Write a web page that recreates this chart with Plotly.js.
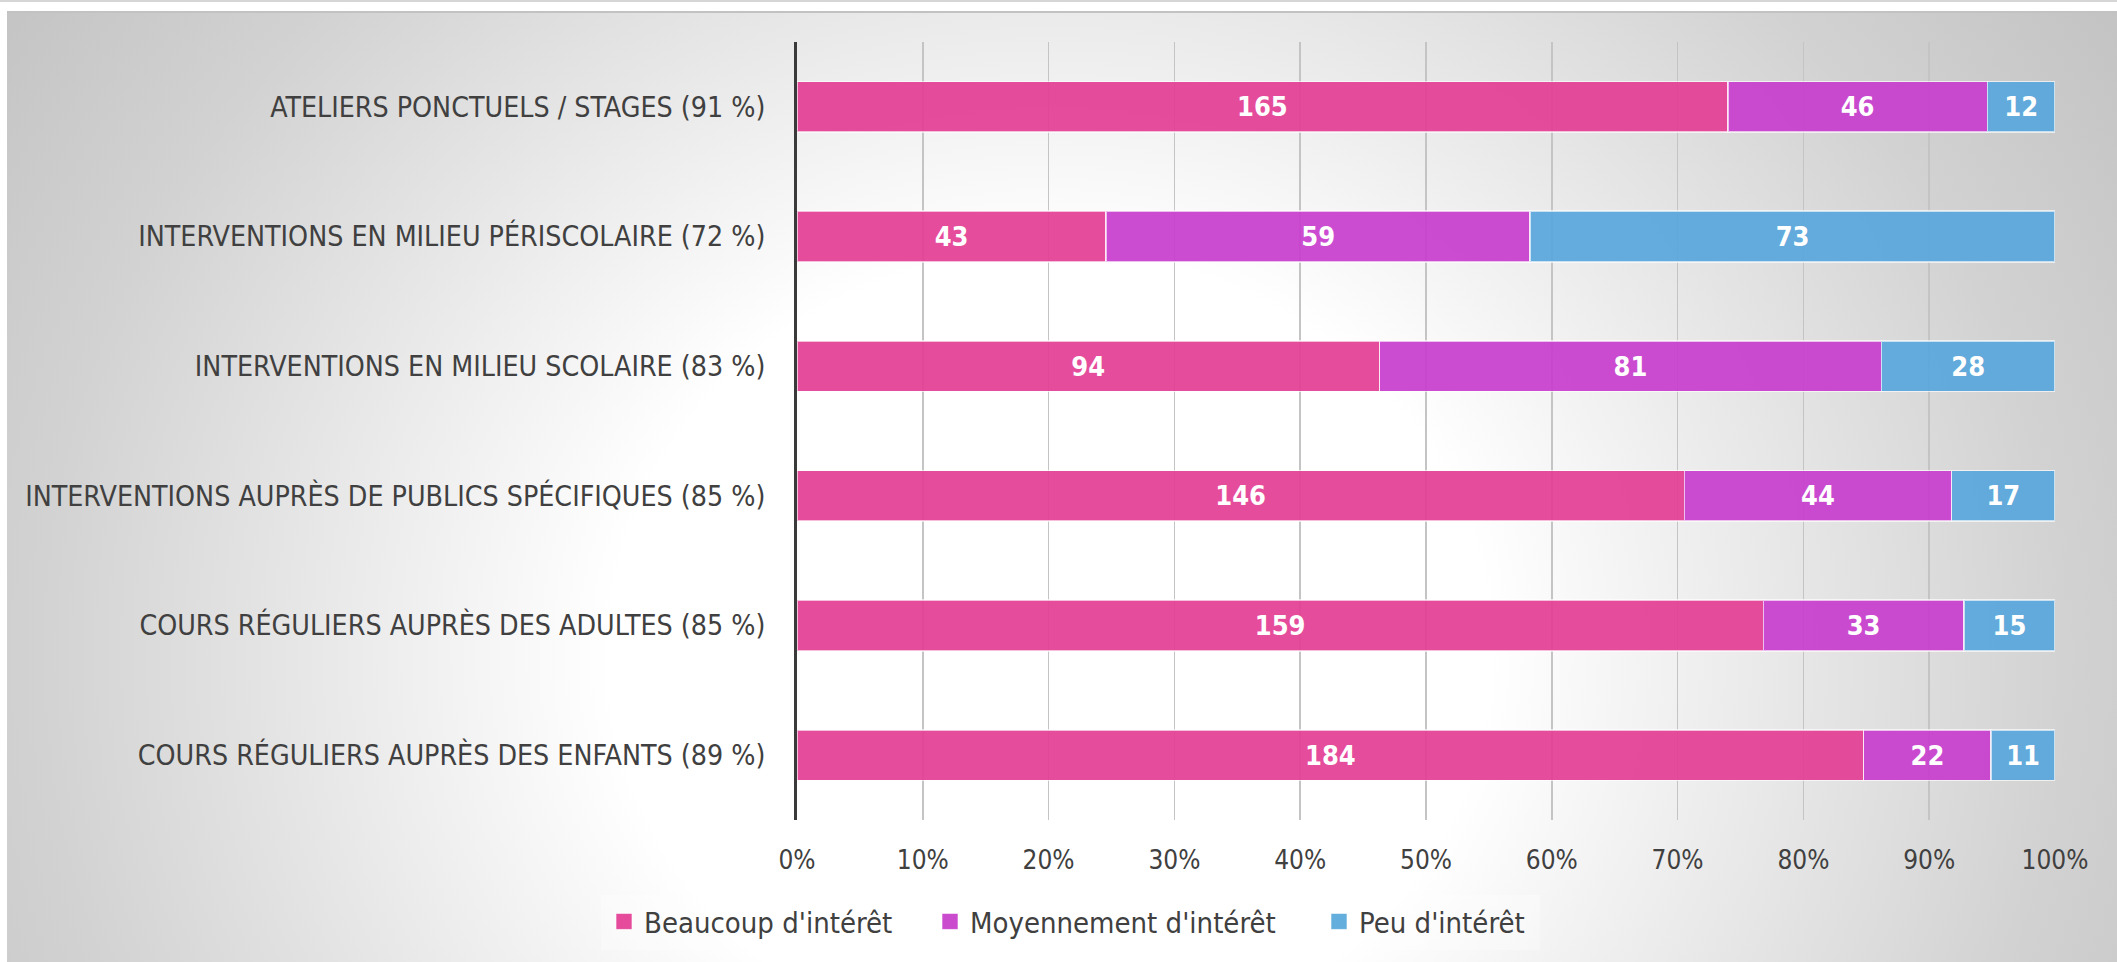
<!DOCTYPE html>
<html>
<head>
<meta charset="utf-8">
<script src="https://cdn.plot.ly/plotly-3.0.1.min.js"></script>
<style>
  html, body { margin: 0; padding: 0; background: #ffffff; width: 2117px; height: 962px; overflow: hidden; }
  #topline { position: absolute; left: 0; top: 0; width: 2117px; height: 2px; background: #d6d6d6; }
  #bg { position: absolute; left: 7px; top: 11px; width: 2110px; height: 951px;
        border-top: 2px solid #c2c2c2; box-sizing: border-box;
        background: radial-gradient(ellipse 1100px 1000px at 1043px 640px, #ffffff 0%, #ffffff 40%, #ececec 62%, #d2d2d2 92%, #c4c4c4 115%, #bcbcbc 130%); }
  #chart { position: absolute; left: 0; top: 0; width: 2117px; height: 962px; }
</style>
</head>
<body>
<div id="topline"></div>
<div id="bg"></div>
<div id="chart"></div>
<script>
// Categories, top to bottom
const categories = [
  "ATELIERS PONCTUELS / STAGES (91 %)",
  "INTERVENTIONS EN MILIEU PÉRISCOLAIRE (72 %)",
  "INTERVENTIONS EN MILIEU SCOLAIRE (83 %)",
  "INTERVENTIONS AUPRÈS DE PUBLICS SPÉCIFIQUES (85 %)",
  "COURS RÉGULIERS AUPRÈS DES ADULTES (85 %)",
  "COURS RÉGULIERS AUPRÈS DES ENFANTS (89 %)"
];
const beaucoup    = [165, 43, 94, 146, 159, 184];
const moyennement = [46, 59, 81, 44, 33, 22];
const peu         = [12, 73, 28, 17, 15, 11];
const seriesNames = ["Beaucoup d'intérêt", "Moyennement d'intérêt", "Peu d'intérêt"];
const tickValues  = [0, 10, 20, 30, 40, 50, 60, 70, 80, 90, 100];

const colors = ["rgba(228,62,148,0.93)", "rgba(200,62,205,0.93)", "rgba(88,167,219,0.93)"];
const legendColors = ["#e64b9b", "#cb4bcf", "#63aedd"];
const FONT = "'DejaVu Sans Condensed', 'DejaVu Sans', sans-serif";
const legendIds = ['legend', 'legend2', 'legend3'];
const legendX = [604 / 2117, 930 / 2117, 1319 / 2117];

const seriesData = [beaucoup, moyennement, peu];
const traces = seriesData.map((vals, i) => ({
  type: 'bar',
  orientation: 'h',
  name: seriesNames[i],
  y: categories,
  x: vals,
  text: vals,
  texttemplate: '%{text}',
  textposition: 'inside',
  insidetextanchor: 'middle',
  constraintext: 'none',
  textfont: { family: FONT, size: 27, color: '#ffffff', weight: 'bold' },
  marker: { color: colors[i], line: { color: 'rgba(255,255,255,0.65)', width: 1.5 } },
  showlegend: false,
  hoverinfo: 'skip'
}));

// legend entries (square swatches), one legend box per entry
seriesNames.forEach((n, i) => {
  traces.push({
    type: 'scatter', mode: 'markers', name: n,
    x: [null], y: [null],
    legend: legendIds[i],
    marker: { symbol: 'square', size: 16, color: legendColors[i], line: { color: 'rgba(255,255,255,0.6)', width: 1 } },
    showlegend: true, hoverinfo: 'skip'
  });
});

function legendBox(i) {
  return {
    orientation: 'h',
    xref: 'container', yref: 'container',
    x: legendX[i], xanchor: 'left',
    y: 0.042, yanchor: 'middle',
    bgcolor: 'rgba(0,0,0,0)',
    font: { family: FONT, size: 29, color: '#404040' },
    itemclick: false, itemdoubleclick: false
  };
}

const layout = {
  width: 2117, height: 962,
  paper_bgcolor: 'rgba(0,0,0,0)',
  plot_bgcolor: 'rgba(0,0,0,0)',
  margin: { l: 797, r: 62, t: 42, b: 142, pad: 0 },
  barmode: 'stack',
  barnorm: 'percent',
  bargap: 0.61,
  font: { family: FONT, color: '#404040', size: 27 },
  xaxis: {
    range: [0, 100],
    tickvals: tickValues,
    ticktext: tickValues.map(v => v + '%'),
    showgrid: true, gridcolor: '#c4c4c4', gridwidth: 1.5,
    zeroline: false, showline: false,
    ticks: '', ticklabelstandoff: 22,
    tickfont: { family: FONT, size: 26, color: '#404040' },
    fixedrange: true
  },
  yaxis: {
    type: 'category',
    categoryorder: 'array',
    categoryarray: categories,
    autorange: 'reversed',
    showgrid: false, zeroline: false,
    showline: true, linecolor: '#3a3a3a', linewidth: 3,
    ticks: '', ticklabelstandoff: 23,
    tickfont: { family: FONT, size: 28.3, color: '#404040' },
    fixedrange: true
  },
  shapes: [{
    type: 'rect', xref: 'paper', yref: 'paper', layer: 'below',
    x0: (601 - 797) / 1258, x1: (1540 - 797) / 1258,
    y0: -(895 - 820) / 778, y1: -(950 - 820) / 778,
    fillcolor: 'rgba(255,255,255,0.3)', line: { width: 0 }
  }],
  showlegend: true,
  legend: legendBox(0),
  legend2: legendBox(1),
  legend3: legendBox(2)
};

Plotly.newPlot('chart', traces, layout, { displayModeBar: false, staticPlot: true });
</script>
</body>
</html>
